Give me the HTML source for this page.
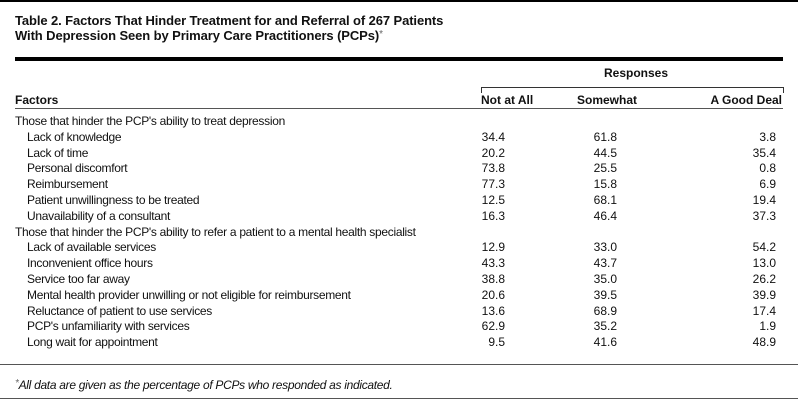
<!DOCTYPE html>
<html><head><meta charset="utf-8"><style>
body{margin:0;width:798px;height:402px;background:#fff;position:relative;overflow:hidden;font-family:"Liberation Sans Narrow","Liberation Sans",sans-serif;color:#111;font-size:12px}
.a{position:absolute;white-space:nowrap;line-height:14px}
.l{letter-spacing:-0.3px}
.r{position:absolute;white-space:nowrap;line-height:14px;text-align:right}
.b{font-weight:bold}
.hl{position:absolute;left:0;width:798px;background:#000}
.st{font-weight:normal;font-size:10px;vertical-align:top;color:#666;position:relative;top:-1px}
</style></head><body>
<div class="hl" style="top:0;height:2px"></div>
<div class="a b" style="left:15px;top:14px;font-size:13px;letter-spacing:-0.1px">Table 2. Factors That Hinder Treatment for and Referral of 267 Patients</div>
<div class="a b" style="left:15px;top:29px;font-size:13px;letter-spacing:-0.1px">With Depression Seen by Primary Care Practitioners (PCPs)<span class="st">*</span></div>
<div class="hl" style="top:57px;left:15px;width:768px;height:4px"></div>
<div class="a b" style="left:604px;top:66px">Responses</div>
<div style="position:absolute;left:481px;top:87px;width:301px;height:5px;border:1px solid #333;border-bottom:none"></div>
<div class="a b" style="left:15px;top:93px">Factors</div>
<div class="a b" style="left:481px;top:93px">Not at All</div>
<div class="a b" style="left:577px;top:93px">Somewhat</div>
<div class="r b" style="right:16px;top:93px">A Good Deal</div>
<div class="hl" style="top:108px;left:15px;width:768px;height:1px;background:#555"></div>
<div id="rows"></div>
<div class="hl" style="top:364px;height:1px;background:#555"></div>
<div class="a l" style="left:15px;top:378px;font-style:italic"><span class="st">*</span>All data are given as the percentage of PCPs who responded as indicated.</div>
<div class="hl" style="top:398px;height:1px;background:#555"></div>
<script>
var d=[["Those that hinder the PCP's ability to treat depression"],
["Lack of knowledge","34.4","61.8","3.8"],["Lack of time","20.2","44.5","35.4"],["Personal discomfort","73.8","25.5","0.8"],["Reimbursement","77.3","15.8","6.9"],["Patient unwillingness to be treated","12.5","68.1","19.4"],["Unavailability of a consultant","16.3","46.4","37.3"],
["Those that hinder the PCP's ability to refer a patient to a mental health specialist"],
["Lack of available services","12.9","33.0","54.2"],["Inconvenient office hours","43.3","43.7","13.0"],["Service too far away","38.8","35.0","26.2"],["Mental health provider unwilling or not eligible for reimbursement","20.6","39.5","39.9"],["Reluctance of patient to use services","13.6","68.9","17.4"],["PCP's unfamiliarity with services","62.9","35.2","1.9"],["Long wait for appointment","9.5","41.6","48.9"]];
var h="";d.forEach(function(r,i){var t=114+i*15.8;
if(r.length==1)h+='<div class="a l" style="left:15px;top:'+t+'px">'+r[0]+'</div>';
else{h+='<div class="a l" style="left:27px;top:'+t+'px">'+r[0]+'</div>';
h+='<div class="r" style="right:'+(798-505)+'px;top:'+t+'px">'+r[1]+'</div>';
h+='<div class="r" style="right:'+(798-617)+'px;top:'+t+'px">'+r[2]+'</div>';
h+='<div class="r" style="right:'+(798-776)+'px;top:'+t+'px">'+r[3]+'</div>';}});
document.getElementById("rows").innerHTML=h;
</script>
</body></html>
